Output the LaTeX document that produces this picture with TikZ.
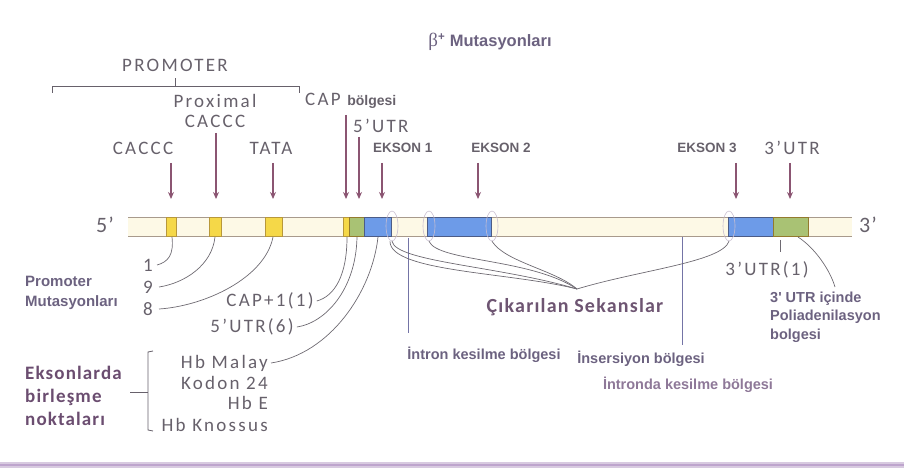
\documentclass[tikz,border=0pt]{standalone}
\usepackage{fontspec}
\setmainfont{Carlito}
\newfontfamily\calib[LetterSpace=12]{Carlito}
\newfontfamily\calibb[LetterSpace=6]{Carlito}
\newfontfamily\arial{Liberation Sans}
\newfontfamily\serif{Liberation Serif}
\usetikzlibrary{arrows.meta,shapes.geometric}
\definecolor{lgrey}{HTML}{67616B}
\definecolor{bgrey}{HTML}{6C6280}
\definecolor{purp}{HTML}{6B4D70}
\definecolor{lpurp}{HTML}{8E7898}
\definecolor{arrc}{HTML}{8B5572}
\definecolor{cream}{HTML}{FDF9E6}
\definecolor{yel}{HTML}{F5D848}
\definecolor{yelb}{HTML}{B8983A}
\definecolor{grn}{HTML}{A9C274}
\definecolor{blu}{HTML}{6D9BE8}
\definecolor{blub}{HTML}{4C5C86}
\definecolor{curvc}{HTML}{6E6A72}
\definecolor{vline}{HTML}{7474A6}
\definecolor{ellc}{HTML}{C8BED0}
\definecolor{barb}{HTML}{A89A8C}
\definecolor{rulea}{HTML}{D8CAE0}
\definecolor{ruleb}{HTML}{BEA5CD}
\tikzset{
  cal/.style={font=\calib\fontsize{19}{21}\selectfont, text=lgrey, inner sep=0pt},
  bl/.style={font=\arial\bfseries\fontsize{14.5}{18.5}\selectfont, text=bgrey, inner sep=0pt},
  ek/.style={font=\arial\bfseries\fontsize{13.5}{15}\selectfont, text=lgrey, inner sep=0pt},
  arr/.style={draw=arrc, line width=1.1pt, -{Stealth[length=7pt,width=6pt]}},
  con/.style={draw=curvc, line width=0.7pt},
  vl/.style={draw=vline, line width=0.9pt},
  brk/.style={draw=lgrey, line width=0.8pt},
  ybox/.style={fill=yel, draw=yelb, line width=0.6pt},
  gbox/.style={fill=grn, draw=yelb!80!black, line width=0.6pt},
  bbox/.style={fill=blu, draw=blub, line width=0.6pt},
  ell/.style={draw=ellc, line width=0.6pt, ellipse, minimum width=12pt, minimum height=30pt, inner sep=0pt},
  endl/.style={font=\calibb\fontsize{22}{24}\selectfont, text=lgrey, inner sep=0pt}
}
\begin{document}
\begin{tikzpicture}[x=1pt,y=-1pt]
\useasboundingbox (0,0) rectangle (904,470);
% title
\node[bl, font=\arial\bfseries\fontsize{16.5}{18}\selectfont] (title) at (490,42) {{\serif\mdseries\fontsize{19}{20}\selectfont β}\textsuperscript{+} Mutasyonları};
% promoter bracket
\node[cal] (prom) at (175,65) {PROMOTER};
\draw[brk] (52,93) -- (52,86) -- (299,86) -- (299,93);
\draw[brk] (175,86) -- (175,78);
% top labels
\node[cal] (prox) at (215,101) {Proximal};
\node[cal] (cacc2) at (215,121) {CACCC};
\node[cal] (cacc1) at (143,148) {CACCC};
\node[cal] (tata) at (271,148) {TATA};
\node[cal, anchor=west] (cap) at (305,101) {CAP {\arial\bfseries\fontsize{14}{15}\selectfont bölgesi}};
\node[cal, anchor=west] (utr5) at (353,126) {5’UTR};
\node[ek, anchor=west] (ek1) at (373,148) {EKSON 1};
\node[ek] (ek2) at (501,148) {EKSON 2};
\node[ek] (ek3) at (707,148) {EKSON 3};
\node[cal] (utr3) at (792,148) {3’UTR};
% bar
\fill[cream] (128,217) rectangle (852,236);
\draw[barb, line width=0.8pt] (128,217) -- (852,217) (128,236) -- (852,236);
\draw[ybox] (166,217) rectangle (176,236);
\draw[ybox] (209,217) rectangle (221,236);
\draw[ybox] (265,217) rectangle (282,236);
\draw[ybox] (343,217) rectangle (349,236);
\draw[gbox] (349,217) rectangle (364,236);
\draw[bbox] (364,217) rectangle (391,236);
\draw[bbox] (427,217) rectangle (491,236);
\draw[bbox] (728,217) rectangle (773,236);
\draw[gbox] (773,217) rectangle (808,236);
\node[ell] (e1) at (392,226) {};
\node[ell] (e2) at (429,226) {};
\node[ell] (e3) at (492,226) {};
\node[ell] (e4) at (729,226) {};
\node[endl] (p5) at (105,225) {5’};
\node[endl] (p3) at (868,225) {3’};
% arrows
\coordinate (bt) at (0,199);
\coordinate (a1) at (171,163);
\coordinate (a2) at (216,133);
\coordinate (a3) at (273,163);
\coordinate (a4) at (346,115);
\coordinate (a5) at (359,137);
\coordinate (a6) at (382,163);
\coordinate (a7) at (478,163);
\coordinate (a8) at (736,163);
\coordinate (a9) at (790,163);
\foreach \a in {a1,a2,a3,a4,a5,a6,a7,a8,a9} \draw[arr] (\a) -- (\a |- bt);
% below-bar labels
\node[cal] (n1) at (148,265) {1};
\node[cal] (n9) at (148,287) {9};
\node[cal] (n8) at (148,309) {8};
\node[bl, align=left, anchor=west, font=\arial\bfseries\fontsize{15}{20}\selectfont] (pm) at (25,293) {Promoter\\Mutasyonları};
\node[cal] (cap1) at (270,301) {CAP+1(1)};
\node[cal] (utr6) at (252,327) {5’UTR(6)};
\node[cal, anchor=east] (hb1) at (268,363) {Hb Malay};
\node[cal, anchor=east] (hb2) at (268,383) {Kodon 24};
\node[cal, anchor=east] (hb3) at (268,403) {Hb E};
\node[cal, anchor=east] (hb4) at (268,425) {Hb Knossus};
\node[font=\calibb\bfseries\fontsize{19}{23}\selectfont, text=purp, inner sep=0pt, align=left, anchor=west] (eks) at (25,396) {Eksonlarda\\birleşme\\noktaları};
\draw[brk] (153,351) -- (148,352) -- (148,430) -- (153,431);
\draw[brk] (130,392) -- (148,392);
\coordinate (c1) at (172,237);
\coordinate (c9) at (215,237);
\coordinate (c8) at (273,237);
\coordinate (ccap) at (347,237);
\coordinate (cutr) at (357,237);
\coordinate (chb) at (378,237);
\draw[con] (c1) .. controls (174,255) and (168,262) .. ([xshift=4pt]n1.east);
\draw[con] (c9) .. controls (212,265) and (185,283) .. ([xshift=6pt]n9.east);
\draw[con] (c8) .. controls (265,278) and (205,306) .. ([xshift=6pt]n8.east);
\draw[con] (ccap) .. controls (347,275) and (335,296) .. ([xshift=3pt]cap1.east);
\draw[con] (cutr) .. controls (356,290) and (325,323) .. ([xshift=3pt]utr6.east);
\draw[con] (chb) .. controls (372,292) and (330,354) .. ([xshift=3pt]hb1.east);
% intron lines
\coordinate (i1t) at (408,238);
\coordinate (i1b) at (408,333);
\draw[vl] (i1t) -- (i1b);
\node[bl, text=bgrey] (intr) at (484,355) {İntron kesilme bölgesi};
\coordinate (i2t) at (682,237);
\coordinate (i2b) at (682,345);
\draw[vl] (i2t) -- (i2b);
\node[bl] (ins) at (641,359) {İnsersiyon bölgesi};
\node[bl, text=lpurp] (intda) at (688,385) {İntronda kesilme bölgesi};
% removed sequences
\coordinate (m) at (577,289);
\draw[con] (e1.south) .. controls (396,262) and (500,266) .. (m);
\draw[con] ([xshift=-2pt]e1.south) .. controls (390,272) and (510,272) .. (m);
\draw[con] (e2.south) .. controls (438,262) and (530,258) .. (m);
\draw[con] (e3.south) .. controls (505,262) and (555,270) .. (m);
\draw[con] (e4.south) .. controls (722,262) and (640,270) .. (m);
\node[font=\calibb\bfseries\fontsize{20}{22}\selectfont, text=purp!85!gray, inner sep=0pt] (cik) at (575,307) {Çıkarılan Sekanslar};
% 3'UTR
\coordinate (u1t) at (780,240);
\coordinate (u1b) at (780,252);
\draw[con] (u1t) -- (u1b);
\node[cal] (utr31) at (767,270) {3’UTR(1)};
\node[bl, align=left, anchor=west] (poly) at (770,317) {3' UTR içinde\\Poliadenilasyon\\bolgesi};
\coordinate (pa) at (798,237);
\coordinate (pb) at (835,287);
\draw[con] (pa) .. controls (815,248) and (830,270) .. (pb);
% bottom rule
\fill[rulea] (0,462) rectangle (904,468);
\draw[line width=2pt, ruleb] (0,465) -- (904,465);
\end{tikzpicture}
\end{document}
